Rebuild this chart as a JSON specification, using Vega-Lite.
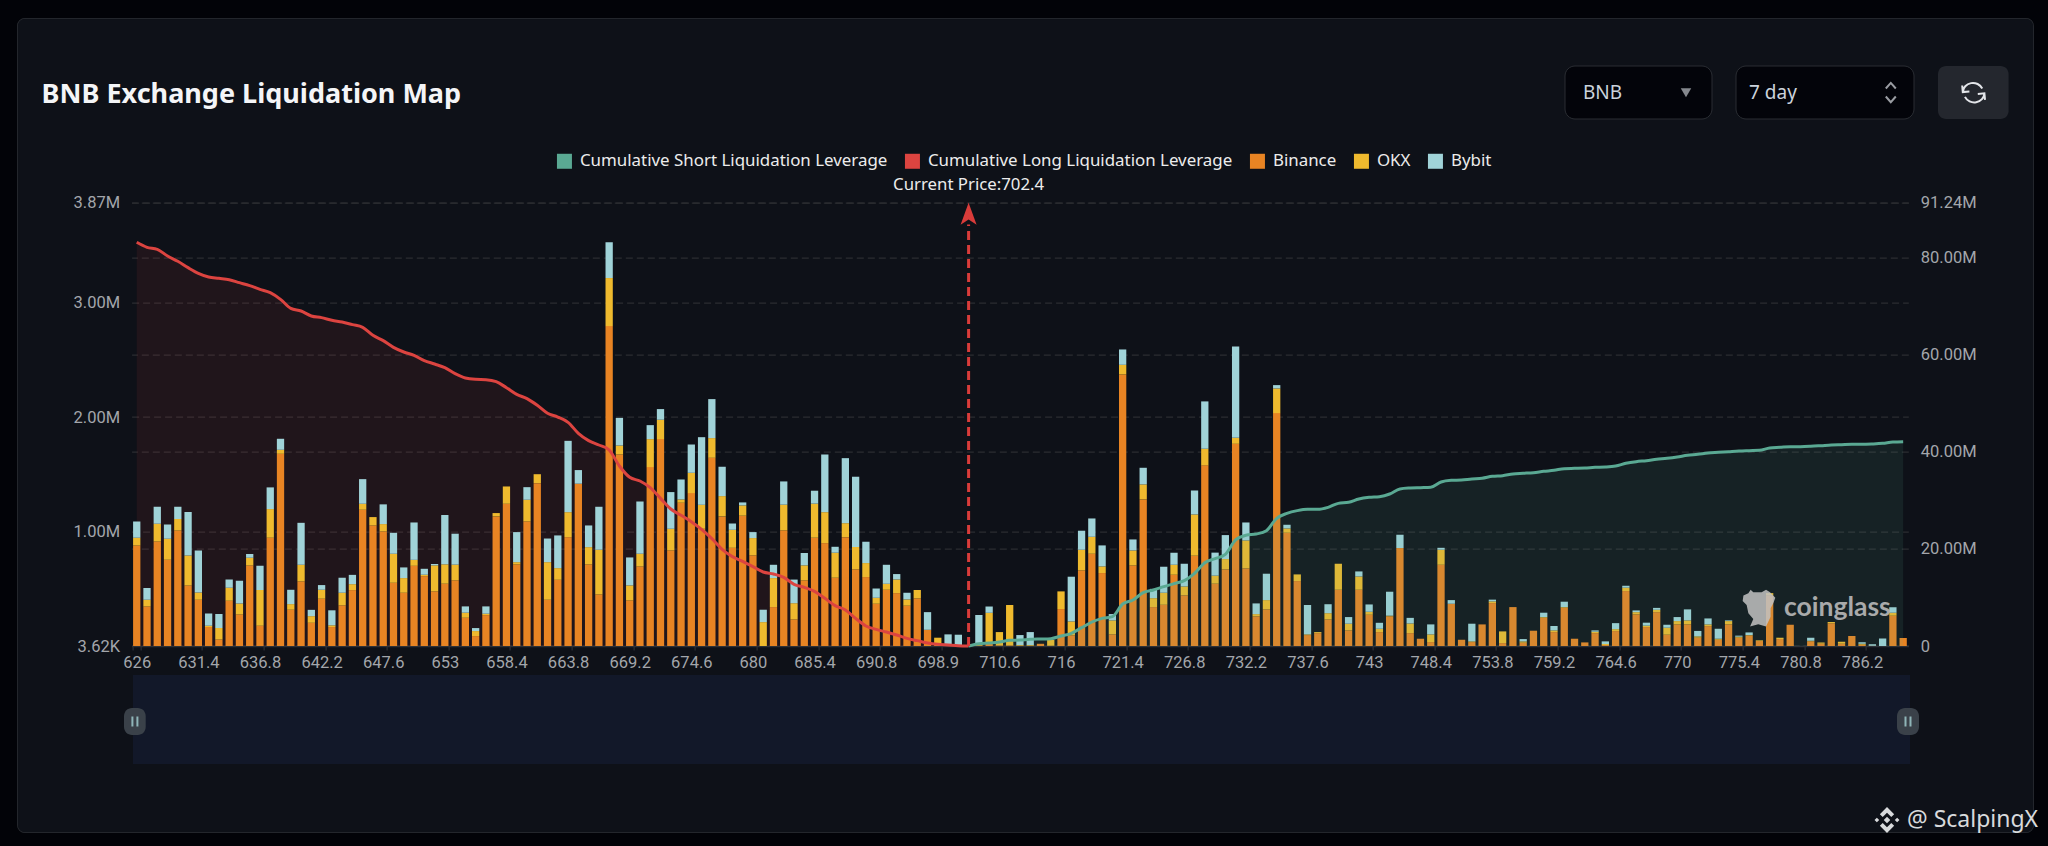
{
  "$schema": "https://vega.github.io/schema/vega-lite/v6.json",
  "autosize": {"type": "none"},
  "width": 1776.7,
  "height": 443.3,
  "padding": {"left": 131.6, "top": 202.7, "right": 139.7, "bottom": 200},
  "background": "#0e1118",
  "title": {"text": "BNB Exchange Liquidation Map", "anchor": "start", "frame": "group", "dx": -90, "offset": -131, "font": "Noto Sans", "fontSize": 27, "fontWeight": "bold", "color": "#f4f5f7"},
  "config": {
    "view": {"stroke": null},
    "axis": {"labelFont": "Roboto", "labelFontSize": 16.5, "labelColor": "#a3a6ab", "title": null},
    "text": {"font": "Noto Sans"}
  },
  "datasets": {
    "one": [{}],
    "rows": [
      {"price":626,"Binance":0.881,"OKX":0.067,"Bybit":0.142,"long":83.09},
      {"price":626.9,"Binance":0.349,"OKX":0.058,"Bybit":0.102,"long":82.06},
      {"price":627.8,"Binance":0.916,"OKX":0.154,"Bybit":0.148,"long":81.65},
      {"price":628.7,"Binance":0.756,"OKX":0.183,"Bybit":0.125,"long":80.27},
      {"price":629.6,"Binance":1.012,"OKX":0.099,"Bybit":0.108,"long":79.18},
      {"price":630.5,"Binance":0.532,"OKX":0.262,"Bybit":0.378,"long":77.87},
      {"price":631.4,"Binance":0.407,"OKX":0.064,"Bybit":0.366,"long":76.70},
      {"price":632.3,"Binance":0.169,"OKX":0.012,"Bybit":0.105,"long":75.95},
      {"price":633.2,"Binance":0.061,"OKX":0.099,"Bybit":0.122,"long":75.68},
      {"price":634.1,"Binance":0.398,"OKX":0.113,"Bybit":0.073,"long":75.40},
      {"price":635,"Binance":0.279,"OKX":0.096,"Bybit":0.198,"long":74.78},
      {"price":635.9,"Binance":0.706,"OKX":0.067,"Bybit":0.032,"long":74.17},
      {"price":636.8,"Binance":0.180,"OKX":0.311,"Bybit":0.212,"long":73.41},
      {"price":637.7,"Binance":0.948,"OKX":0.250,"Bybit":0.189,"long":72.73},
      {"price":638.6,"Binance":1.680,"OKX":0.035,"Bybit":0.096,"long":71.35},
      {"price":639.5,"Binance":0.320,"OKX":0.049,"Bybit":0.125,"long":69.50},
      {"price":640.4,"Binance":0.567,"OKX":0.145,"Bybit":0.366,"long":68.95},
      {"price":641.3,"Binance":0.206,"OKX":0.058,"Bybit":0.055,"long":67.92},
      {"price":642.2,"Binance":0.416,"OKX":0.078,"Bybit":0.041,"long":67.58},
      {"price":643.1,"Binance":0.169,"OKX":0.015,"Bybit":0.131,"long":67.03},
      {"price":644,"Binance":0.358,"OKX":0.110,"Bybit":0.131,"long":66.69},
      {"price":644.9,"Binance":0.491,"OKX":0.052,"Bybit":0.081,"long":66.14},
      {"price":645.8,"Binance":1.192,"OKX":0.052,"Bybit":0.215,"long":65.59},
      {"price":646.7,"Binance":1.055,"OKX":0.073,"Bybit":0,"long":63.94},
      {"price":647.6,"Binance":1.003,"OKX":0.064,"Bybit":0.172,"long":62.85},
      {"price":648.5,"Binance":0.555,"OKX":0.253,"Bybit":0.183,"long":61.47},
      {"price":649.4,"Binance":0.468,"OKX":0.128,"Bybit":0.093,"long":60.51},
      {"price":650.3,"Binance":0.703,"OKX":0.052,"Bybit":0.326,"long":59.83},
      {"price":651.2,"Binance":0.613,"OKX":0.012,"Bybit":0.052,"long":58.73},
      {"price":652.1,"Binance":0.480,"OKX":0.227,"Bybit":0.012,"long":58.04},
      {"price":653,"Binance":0.547,"OKX":0.169,"Bybit":0.430,"long":57.29},
      {"price":653.9,"Binance":0.576,"OKX":0.137,"Bybit":0.270,"long":56.05},
      {"price":654.8,"Binance":0.250,"OKX":0.044,"Bybit":0.055,"long":55.16},
      {"price":655.7,"Binance":0.090,"OKX":0.044,"Bybit":0.026,"long":54.89},
      {"price":656.6,"Binance":0.273,"OKX":0.012,"Bybit":0.064,"long":54.82},
      {"price":657.5,"Binance":1.134,"OKX":0.029,"Bybit":0,"long":54.41},
      {"price":658.4,"Binance":1.244,"OKX":0.151,"Bybit":0,"long":53.17},
      {"price":659.3,"Binance":0.715,"OKX":0.020,"Bybit":0.262,"long":51.80},
      {"price":660.2,"Binance":1.090,"OKX":0.189,"Bybit":0.110,"long":50.91},
      {"price":661.1,"Binance":1.424,"OKX":0.078,"Bybit":0,"long":49.54},
      {"price":662,"Binance":0.407,"OKX":0.328,"Bybit":0.206,"long":47.89},
      {"price":662.9,"Binance":0.581,"OKX":0.102,"Bybit":0.285,"long":47.13},
      {"price":663.8,"Binance":0.953,"OKX":0.218,"Bybit":0.622,"long":46.04},
      {"price":664.7,"Binance":1.419,"OKX":0,"Bybit":0.119,"long":43.77},
      {"price":665.6,"Binance":0.715,"OKX":0.151,"Bybit":0.189,"long":42.26},
      {"price":666.5,"Binance":0.453,"OKX":0.390,"Bybit":0.375,"long":41.37},
      {"price":667.4,"Binance":2.794,"OKX":0.419,"Bybit":0.311,"long":40.34},
      {"price":668.3,"Binance":1.674,"OKX":0.078,"Bybit":0.241,"long":37.05},
      {"price":669.2,"Binance":0.401,"OKX":0.131,"Bybit":0.244,"long":34.72},
      {"price":670.1,"Binance":0.698,"OKX":0.110,"Bybit":0.456,"long":33.96},
      {"price":671,"Binance":1.564,"OKX":0.244,"Bybit":0.122,"long":32.59},
      {"price":671.9,"Binance":1.808,"OKX":0.169,"Bybit":0.093,"long":30.39},
      {"price":672.8,"Binance":0.837,"OKX":0.189,"Bybit":0.320,"long":28.20},
      {"price":673.7,"Binance":1.253,"OKX":0.029,"Bybit":0.174,"long":26.90},
      {"price":674.6,"Binance":1.337,"OKX":0.177,"Bybit":0.247,"long":25.59},
      {"price":675.5,"Binance":1.026,"OKX":0.209,"Bybit":0.590,"long":24.01},
      {"price":676.4,"Binance":1.645,"OKX":0.172,"Bybit":0.340,"long":22.09},
      {"price":677.3,"Binance":1.134,"OKX":0.177,"Bybit":0.256,"long":19.90},
      {"price":678.2,"Binance":0.860,"OKX":0.157,"Bybit":0.055,"long":18.39},
      {"price":679.1,"Binance":1.140,"OKX":0.090,"Bybit":0.026,"long":17.43},
      {"price":680,"Binance":0.794,"OKX":0.151,"Bybit":0.052,"long":16.33},
      {"price":680.9,"Binance":0,"OKX":0.212,"Bybit":0.108,"long":15.23},
      {"price":681.8,"Binance":0.343,"OKX":0.253,"Bybit":0.116,"long":14.82},
      {"price":682.7,"Binance":1.012,"OKX":0.224,"Bybit":0.203,"long":14.13},
      {"price":683.6,"Binance":0.235,"OKX":0.142,"Bybit":0.206,"long":12.69},
      {"price":684.5,"Binance":0.576,"OKX":0.131,"Bybit":0.108,"long":12.08},
      {"price":685.4,"Binance":0.948,"OKX":0.297,"Bybit":0.113,"long":11.25},
      {"price":686.3,"Binance":0.901,"OKX":0.270,"Bybit":0.503,"long":9.81},
      {"price":687.2,"Binance":0.599,"OKX":0.218,"Bybit":0.052,"long":8.30},
      {"price":688.1,"Binance":0.953,"OKX":0.122,"Bybit":0.567,"long":7.41},
      {"price":689,"Binance":0.672,"OKX":0.195,"Bybit":0.613,"long":5.69},
      {"price":689.9,"Binance":0.605,"OKX":0.122,"Bybit":0.186,"long":4.12},
      {"price":690.8,"Binance":0.372,"OKX":0.052,"Bybit":0.081,"long":3.43},
      {"price":691.7,"Binance":0.494,"OKX":0.052,"Bybit":0.166,"long":2.88},
      {"price":692.6,"Binance":0.465,"OKX":0.119,"Bybit":0.047,"long":2.26},
      {"price":693.5,"Binance":0.355,"OKX":0.055,"Bybit":0.058,"long":1.58},
      {"price":694.4,"Binance":0.419,"OKX":0.073,"Bybit":0,"long":1.10},
      {"price":695.3,"Binance":0.145,"OKX":0,"Bybit":0.154,"long":0.62},
      {"price":698.9,"Binance":0.029,"OKX":0.047,"Bybit":0,"long":0.34},
      {"price":699.8,"Binance":0,"OKX":0,"Bybit":0.105,"long":0.21},
      {"price":700.7,"Binance":0,"OKX":0,"Bybit":0.102,"long":0.07},
      {"price":702.4,"Binance":0,"OKX":0,"Bybit":0,"long":0,"short":0},
      {"price":708.8,"Binance":0.006,"OKX":0.006,"Bybit":0.262,"short":0.48},
      {"price":709.7,"Binance":0.023,"OKX":0.270,"Bybit":0.055,"short":0.62},
      {"price":710.6,"Binance":0.009,"OKX":0.116,"Bybit":0,"short":0.82},
      {"price":711.5,"Binance":0.009,"OKX":0.352,"Bybit":0,"short":1.17},
      {"price":712.4,"Binance":0.006,"OKX":0.006,"Bybit":0.087,"short":1.23},
      {"price":713.3,"Binance":0.006,"OKX":0.006,"Bybit":0.113,"short":1.37},
      {"price":714.2,"Binance":0.023,"OKX":0,"Bybit":0,"short":1.44},
      {"price":715.1,"Binance":0.006,"OKX":0.052,"Bybit":0,"short":1.51},
      {"price":716,"Binance":0.326,"OKX":0.154,"Bybit":0,"short":2.06},
      {"price":716.9,"Binance":0.096,"OKX":0.122,"Bybit":0.390,"short":2.61},
      {"price":717.8,"Binance":0.663,"OKX":0.180,"Bybit":0.166,"short":3.77},
      {"price":718.7,"Binance":0.808,"OKX":0.148,"Bybit":0.160,"short":4.94},
      {"price":719.6,"Binance":0.640,"OKX":0.058,"Bybit":0.183,"short":5.69},
      {"price":720.5,"Binance":0.105,"OKX":0.122,"Bybit":0.055,"short":6.04},
      {"price":721.4,"Binance":2.372,"OKX":0.084,"Bybit":0.134,"short":8.64},
      {"price":722.3,"Binance":0.706,"OKX":0.131,"Bybit":0.096,"short":9.47},
      {"price":723.2,"Binance":1.282,"OKX":0.131,"Bybit":0.145,"short":10.98},
      {"price":724.1,"Binance":0.343,"OKX":0.078,"Bybit":0.081,"short":11.53},
      {"price":725,"Binance":0.363,"OKX":0.105,"Bybit":0.227,"short":12.21},
      {"price":725.9,"Binance":0.625,"OKX":0.087,"Bybit":0.105,"short":12.83},
      {"price":726.8,"Binance":0.445,"OKX":0.078,"Bybit":0.198,"short":13.45},
      {"price":727.7,"Binance":0.791,"OKX":0.360,"Bybit":0.209,"short":14.96},
      {"price":728.6,"Binance":1.579,"OKX":0.145,"Bybit":0.413,"short":17.15},
      {"price":729.5,"Binance":0.547,"OKX":0.070,"Bybit":0.201,"short":17.98},
      {"price":730.4,"Binance":0.672,"OKX":0.090,"Bybit":0.209,"short":18.87},
      {"price":731.3,"Binance":1.767,"OKX":0.052,"Bybit":0.797,"short":21.82},
      {"price":732.2,"Binance":0.680,"OKX":0.244,"Bybit":0.157,"short":22.78},
      {"price":733.1,"Binance":0.262,"OKX":0.020,"Bybit":0.093,"short":23.05},
      {"price":734,"Binance":0.323,"OKX":0.081,"Bybit":0.230,"short":23.74},
      {"price":734.9,"Binance":2.035,"OKX":0.215,"Bybit":0.029,"short":26.28},
      {"price":735.8,"Binance":0.991,"OKX":0.038,"Bybit":0.032,"short":27.31},
      {"price":736.7,"Binance":0.570,"OKX":0.058,"Bybit":0,"short":27.86},
      {"price":737.6,"Binance":0.099,"OKX":0.006,"Bybit":0.256,"short":28.13},
      {"price":738.5,"Binance":0.116,"OKX":0.009,"Bybit":0,"short":28.13},
      {"price":739.4,"Binance":0.235,"OKX":0.055,"Bybit":0.078,"short":28.54},
      {"price":740.3,"Binance":0.494,"OKX":0.227,"Bybit":0,"short":29.36},
      {"price":741.2,"Binance":0.140,"OKX":0.058,"Bybit":0.058,"short":29.57},
      {"price":742.1,"Binance":0.494,"OKX":0.116,"Bybit":0.044,"short":30.26},
      {"price":743,"Binance":0.276,"OKX":0.026,"Bybit":0.064,"short":30.60},
      {"price":743.9,"Binance":0.125,"OKX":0.029,"Bybit":0.052,"short":30.74},
      {"price":744.8,"Binance":0.262,"OKX":0.006,"Bybit":0.209,"short":31.29},
      {"price":745.7,"Binance":0.858,"OKX":0,"Bybit":0.116,"short":32.32},
      {"price":746.6,"Binance":0.116,"OKX":0.084,"Bybit":0.049,"short":32.52},
      {"price":747.5,"Binance":0.067,"OKX":0,"Bybit":0,"short":32.59},
      {"price":748.4,"Binance":0.038,"OKX":0.067,"Bybit":0.087,"short":32.66},
      {"price":749.3,"Binance":0.712,"OKX":0.131,"Bybit":0.017,"short":33.76},
      {"price":750.2,"Binance":0.372,"OKX":0,"Bybit":0.032,"short":34.10},
      {"price":751.1,"Binance":0.058,"OKX":0,"Bybit":0,"short":34.17},
      {"price":752,"Binance":0.038,"OKX":0.006,"Bybit":0.154,"short":34.37},
      {"price":752.9,"Binance":0.192,"OKX":0,"Bybit":0,"short":34.51},
      {"price":753.8,"Binance":0.378,"OKX":0.015,"Bybit":0.015,"short":34.92},
      {"price":754.7,"Binance":0.029,"OKX":0.102,"Bybit":0,"short":35.06},
      {"price":755.6,"Binance":0.343,"OKX":0,"Bybit":0,"short":35.40},
      {"price":756.5,"Binance":0.032,"OKX":0.012,"Bybit":0.020,"short":35.54},
      {"price":757.4,"Binance":0.137,"OKX":0,"Bybit":0,"short":35.68},
      {"price":758.3,"Binance":0.250,"OKX":0.006,"Bybit":0.038,"short":35.95},
      {"price":759.2,"Binance":0.125,"OKX":0.015,"Bybit":0.038,"short":36.16},
      {"price":760.1,"Binance":0.337,"OKX":0.006,"Bybit":0.047,"short":36.50},
      {"price":761,"Binance":0.067,"OKX":0,"Bybit":0,"short":36.57},
      {"price":761.9,"Binance":0.035,"OKX":0,"Bybit":0,"short":36.64},
      {"price":762.8,"Binance":0.116,"OKX":0.012,"Bybit":0.012,"short":36.77},
      {"price":763.7,"Binance":0.012,"OKX":0.009,"Bybit":0.023,"short":36.84},
      {"price":764.6,"Binance":0.134,"OKX":0.017,"Bybit":0.052,"short":37.05},
      {"price":765.5,"Binance":0.483,"OKX":0.029,"Bybit":0.017,"short":37.60},
      {"price":766.4,"Binance":0.279,"OKX":0.020,"Bybit":0.015,"short":37.94},
      {"price":767.3,"Binance":0.169,"OKX":0.012,"Bybit":0.026,"short":38.15},
      {"price":768.2,"Binance":0.299,"OKX":0.020,"Bybit":0.017,"short":38.42},
      {"price":769.1,"Binance":0.102,"OKX":0.061,"Bybit":0.026,"short":38.63},
      {"price":770,"Binance":0.192,"OKX":0.029,"Bybit":0.035,"short":38.90},
      {"price":770.9,"Binance":0.192,"OKX":0.035,"Bybit":0.096,"short":39.24},
      {"price":771.8,"Binance":0.076,"OKX":0.012,"Bybit":0.047,"short":39.45},
      {"price":772.7,"Binance":0.177,"OKX":0.015,"Bybit":0.052,"short":39.72},
      {"price":773.6,"Binance":0.058,"OKX":0.009,"Bybit":0.087,"short":39.86},
      {"price":774.5,"Binance":0.192,"OKX":0.029,"Bybit":0.006,"short":40.00},
      {"price":775.4,"Binance":0.076,"OKX":0.009,"Bybit":0.009,"short":40.14},
      {"price":776.3,"Binance":0.096,"OKX":0.003,"Bybit":0.023,"short":40.21},
      {"price":777.2,"Binance":0.047,"OKX":0.006,"Bybit":0,"short":40.27},
      {"price":778.1,"Binance":0.445,"OKX":0.020,"Bybit":0,"short":40.75},
      {"price":779,"Binance":0.064,"OKX":0.012,"Bybit":0,"short":40.89},
      {"price":779.9,"Binance":0.189,"OKX":0,"Bybit":0,"short":41.03},
      {"price":780.8,"Binance":0.003,"OKX":0,"Bybit":0,"short":41.03},
      {"price":781.7,"Binance":0.044,"OKX":0.006,"Bybit":0.026,"short":41.10},
      {"price":782.6,"Binance":0.023,"OKX":0.012,"Bybit":0,"short":41.23},
      {"price":783.5,"Binance":0.203,"OKX":0.009,"Bybit":0,"short":41.37},
      {"price":784.4,"Binance":0.023,"OKX":0.017,"Bybit":0,"short":41.44},
      {"price":785.3,"Binance":0.090,"OKX":0,"Bybit":0,"short":41.51},
      {"price":786.2,"Binance":0.015,"OKX":0.009,"Bybit":0.012,"short":41.51},
      {"price":787.1,"Binance":0.006,"OKX":0,"Bybit":0.012,"short":41.58},
      {"price":788,"Binance":0.003,"OKX":0,"Bybit":0.067,"short":41.71},
      {"price":788.9,"Binance":0.267,"OKX":0.026,"Bybit":0.049,"short":41.99},
      {"price":789.8,"Binance":0.073,"OKX":0,"Bybit":0,"short":42.06}
    ]
  },
  "data": {"name": "rows"},
  "resolve": {"scale": {"y": "independent"}},
  "layer": [
    {
      "transform": [{"filter": "isValid(datum.long)"}],
      "mark": {"type": "area", "fillOpacity": 0.09, "interpolate": "monotone"},
      "encoding": {
        "x": {"field": "price", "type": "ordinal"},
        "y": {"field": "long", "type": "quantitative", "scale": {"domain": [0, 91.24], "nice": false}, "axis": {"orient": "right", "values": [0, 20, 40, 60, 80, 91.24], "labelExpr": "datum.value === 0 ? '0' : format(datum.value, '.2f') + 'M'", "domain": false, "ticks": false, "labelPadding": 12, "grid": true, "gridColor": "#2b2d31", "gridDash": [7, 4], "gridWidth": 1.2}},
        "color": {"datum": "Cumulative Long Liquidation Leverage"}
      }
    },
    {
      "transform": [
        {"fold": ["Binance", "OKX", "Bybit"], "as": ["series", "value"]},
        {"window": [{"op": "row_number", "as": "rank"}], "groupby": ["price"]}
      ],
      "mark": {"type": "bar", "clip": true},
      "encoding": {
        "x": {
          "field": "price",
          "type": "ordinal",
          "scale": {"paddingInner": 0.29, "paddingOuter": 0.145},
          "axis": {"values": [626, 631.4, 636.8, 642.2, 647.6, 653, 658.4, 663.8, 669.2, 674.6, 680, 685.4, 690.8, 698.9, 710.6, 716, 721.4, 726.8, 732.2, 737.6, 743, 748.4, 753.8, 759.2, 764.6, 770, 775.4, 780.8, 786.2], "labelAngle": 0, "labelAlign": "center", "labelOverlap": false, "labelPadding": 12, "tickBand": "extent", "tickSize": 4, "tickColor": "#33363c", "domainColor": "#2e3238", "domainWidth": 1.5}
        },
        "y": {"field": "value", "type": "quantitative", "scale": {"domain": [0.00362, 3.87], "nice": false, "zero": false}, "axis": {"orient": "left", "values": [0.00362, 1, 2, 3, 3.87], "labelExpr": "datum.value < 0.01 ? '3.62K' : format(datum.value, '.2f') + 'M'", "domain": false, "ticks": false, "labelPadding": 12, "grid": true, "gridColor": "#2b2d31", "gridDash": [7, 4], "gridWidth": 1.2}},
        "order": {"field": "rank"},
        "color": {
          "field": "series",
          "type": "nominal",
          "scale": {
            "domain": ["Cumulative Short Liquidation Leverage", "Cumulative Long Liquidation Leverage", "Binance", "OKX", "Bybit"],
            "range": ["#5aa993", "#dc4440", "#e88423", "#efba2e", "#a0d3d8"]
          },
          "legend": {"orient": "none", "legendX": 424.4, "legendY": -50.2, "direction": "horizontal", "columns": 5, "columnPadding": 16, "title": null, "labelFont": "Noto Sans", "labelFontSize": 16.9, "labelLimit": 500, "labelColor": "#ececec", "symbolType": "square", "symbolSize": 225, "symbolStrokeWidth": 0, "labelOffset": 7}
        }
      }
    },
    {
      "transform": [{"filter": "isValid(datum.short)"}],
      "mark": {"type": "area", "fillOpacity": 0.11, "interpolate": "monotone"},
      "encoding": {
        "x": {"field": "price", "type": "ordinal"},
        "y": {"field": "short", "type": "quantitative", "scale": {"domain": [0, 91.24], "nice": false}, "axis": null},
        "color": {"datum": "Cumulative Short Liquidation Leverage"}
      }
    },
    {
      "transform": [{"filter": "isValid(datum.long)"}],
      "mark": {"type": "line", "strokeWidth": 3, "interpolate": "monotone"},
      "encoding": {
        "x": {"field": "price", "type": "ordinal"},
        "y": {"field": "long", "type": "quantitative", "scale": {"domain": [0, 91.24], "nice": false}, "axis": null},
        "color": {"datum": "Cumulative Long Liquidation Leverage"}
      }
    },
    {
      "transform": [{"filter": "isValid(datum.short)"}],
      "mark": {"type": "line", "strokeWidth": 3, "interpolate": "monotone"},
      "encoding": {
        "x": {"field": "price", "type": "ordinal"},
        "y": {"field": "short", "type": "quantitative", "scale": {"domain": [0, 91.24], "nice": false}, "axis": null},
        "color": {"datum": "Cumulative Short Liquidation Leverage"}
      }
    },
    {
      "data": {"name": "one"},
      "mark": {"type": "rule", "color": "#d93c3a", "strokeWidth": 3, "strokeDash": [9, 5]},
      "encoding": {
        "x": {"datum": 702.4, "type": "ordinal"},
        "y": {"datum": 0.00362, "type": "quantitative", "scale": {"domain": [0.00362, 3.87], "nice": false, "zero": false}, "axis": null},
        "y2": {"datum": 3.68}
      }
    },
    {
      "data": {"name": "one"},
      "mark": {"type": "point", "filled": true, "opacity": 1, "color": "#d93c3a", "size": 256, "shape": "M0,0L1,2.75L0,2.1L-1,2.75Z"},
      "encoding": {
        "x": {"datum": 702.4, "type": "ordinal"},
        "y": {"datum": 3.87, "type": "quantitative", "scale": {"domain": [0.00362, 3.87], "nice": false, "zero": false}, "axis": null}
      }
    },
    {
      "data": {"name": "one"},
      "mark": {"type": "text", "text": "Current Price:702.4", "fontSize": 16.8, "color": "#ececec", "dy": -18, "align": "center"},
      "encoding": {
        "x": {"datum": 702.4, "type": "ordinal"},
        "y": {"datum": 3.87, "type": "quantitative", "scale": {"domain": [0.00362, 3.87], "nice": false, "zero": false}, "axis": null}
      }
    },
    {
      "data": {"name": "one"},
      "mark": {"type": "rect", "fill": "#121829"},
      "encoding": {"x": {"value": 1.4}, "x2": {"value": 1778.4}, "y": {"value": 472.3}, "y2": {"value": 561.3}}
    },
    {
      "data": {"name": "one"},
      "mark": {"type": "rect", "fill": "#3a4149", "cornerRadius": 8},
      "encoding": {"x": {"value": -7.6}, "x2": {"value": 14.1}, "y": {"value": 505.3}, "y2": {"value": 532.3}}
    },
    {
      "data": {"name": "one"},
      "mark": {"type": "rect", "fill": "#3a4149", "cornerRadius": 8},
      "encoding": {"x": {"value": 1765.4}, "x2": {"value": 1787.4}, "y": {"value": 505.3}, "y2": {"value": 532.3}}
    },
    {
      "data": {"name": "one"},
      "mark": {"type": "point", "filled": true, "opacity": 1, "color": "#8fb5b8", "size": 100, "shape": "M-0.7,-1H-0.3V1H-0.7Z M0.3,-1H0.7V1H0.3Z"},
      "encoding": {"x": {"value": 3.3}, "y": {"value": 518.8}}
    },
    {
      "data": {"name": "one"},
      "mark": {"type": "point", "filled": true, "opacity": 1, "color": "#8fb5b8", "size": 100, "shape": "M-0.7,-1H-0.3V1H-0.7Z M0.3,-1H0.7V1H0.3Z"},
      "encoding": {"x": {"value": 1776.4}, "y": {"value": 518.8}}
    },
    {
      "data": {"name": "one"},
      "mark": {"type": "rect", "fill": "#03040a", "stroke": "#2a2d33", "strokeWidth": 1, "cornerRadius": 10},
      "encoding": {"x": {"value": 1433.4}, "x2": {"value": 1580.4}, "y": {"value": -136.7}, "y2": {"value": -83.7}}
    },
    {
      "data": {"name": "one"},
      "mark": {"type": "rect", "fill": "#03040a", "stroke": "#2a2d33", "strokeWidth": 1, "cornerRadius": 10},
      "encoding": {"x": {"value": 1604.4}, "x2": {"value": 1782.4}, "y": {"value": -136.7}, "y2": {"value": -83.7}}
    },
    {
      "data": {"name": "one"},
      "mark": {"type": "rect", "fill": "#24272e", "cornerRadius": 8},
      "encoding": {"x": {"value": 1806.4}, "x2": {"value": 1877}, "y": {"value": -136.7}, "y2": {"value": -83.7}}
    },
    {
      "data": {"name": "one"},
      "mark": {"type": "text", "text": "BNB", "fontSize": 19, "color": "#ccd3dc", "align": "left", "baseline": "middle"},
      "encoding": {"x": {"value": 1451.4}, "y": {"value": -110}}
    },
    {
      "data": {"name": "one"},
      "mark": {"type": "text", "text": "7 day", "fontSize": 19, "color": "#ccd3dc", "align": "left", "baseline": "middle"},
      "encoding": {"x": {"value": 1617.4}, "y": {"value": -110}}
    },
    {
      "data": {"name": "one"},
      "mark": {"type": "point", "filled": true, "opacity": 1, "color": "#85888e", "size": 110, "shape": "triangle-down"},
      "encoding": {"x": {"value": 1554.4}, "y": {"value": -110}}
    },
    {
      "data": {"name": "one"},
      "mark": {"type": "point", "filled": false, "opacity": 1, "stroke": "#9a9da3", "strokeWidth": 2, "size": 400, "shape": "M-0.5,-0.42L0,-0.98L0.5,-0.42M-0.5,0.38L0,0.95L0.5,0.38"},
      "encoding": {"x": {"value": 1759.2}, "y": {"value": -110}}
    },
    {
      "data": {"name": "one"},
      "mark": {"type": "point", "filled": false, "opacity": 1, "stroke": "#e4e6ea", "strokeWidth": 2, "size": 576, "shape": "M-0.95,-0.6L-0.9,-0.05L-0.35,-0.1M-0.9,-0.05A0.85,0.8 0 0 1 0.72,-0.35M0.95,0.6L0.9,0.05L0.35,0.1M0.9,0.05A0.85,0.8 0 0 1 -0.72,0.35"},
      "encoding": {"x": {"value": 1842}, "y": {"value": -110}}
    },
    {
      "data": {"name": "one"},
      "mark": {"type": "point", "filled": true, "opacity": 0.85, "color": "#c2c2c2", "size": 1444, "shape": "M-0.44,-0.98L-0.3,-0.84L0.14,-0.84L0.37,-0.98L0.58,-0.84L0.86,-0.56L0.75,-0.26L0.61,0L0.61,0.44L0.37,0.96L-0.04,0.84L-0.47,0.96L-0.3,0.56L-0.56,0.26L-0.65,-0.18L-0.86,-0.39L-0.82,-0.67L-0.56,-0.79Z"},
      "encoding": {"x": {"value": 1627.4}, "y": {"value": 405.6}}
    },
    {
      "data": {"name": "one"},
      "mark": {"type": "text", "text": "coinglass", "font": "Lato", "fontWeight": "bold", "fontSize": 26.5, "color": "#b9b9b9", "opacity": 0.9, "align": "left", "baseline": "middle"},
      "encoding": {"x": {"value": 1652.4}, "y": {"value": 405.3}}
    },
    {
      "data": {"name": "one"},
      "mark": {"type": "rect", "fill": null, "stroke": "#2b2e33", "strokeWidth": 1.5, "cornerRadius": 8},
      "encoding": {"x": {"value": -114.6}, "x2": {"value": 1902.4}, "y": {"value": -184.7}, "y2": {"value": 630.3}}
    },
    {
      "data": {"name": "one"},
      "mark": {"type": "rect", "fill": null, "stroke": "#020308", "strokeWidth": 40, "cornerRadius": 28},
      "encoding": {"x": {"value": -134.6}, "x2": {"value": 1922.4}, "y": {"value": -204.7}, "y2": {"value": 650.3}}
    },
    {
      "data": {"name": "one"},
      "mark": {"type": "point", "filled": true, "opacity": 1, "color": "#d8dadc", "size": 676, "shape": "M0,-0.25L0.25,0L0,0.25L-0.25,0Z M-0.78,-0.18L-0.6,0L-0.78,0.18L-0.96,0Z M0.78,-0.18L0.96,0L0.78,0.18L0.6,0Z M0,-1L0.55,-0.45L0.33,-0.23L0,-0.56L-0.33,-0.23L-0.55,-0.45Z M0,1L0.55,0.45L0.33,0.23L0,0.56L-0.33,0.23L-0.55,0.45Z"},
      "encoding": {"x": {"value": 1755.4}, "y": {"value": 617.3}}
    },
    {
      "data": {"name": "one"},
      "mark": {"type": "text", "text": "@ ScalpingX", "fontSize": 23, "color": "#d8dadc", "align": "left", "baseline": "middle"},
      "encoding": {"x": {"value": 1775.4}, "y": {"value": 617.3}}
    }
  ]
}
